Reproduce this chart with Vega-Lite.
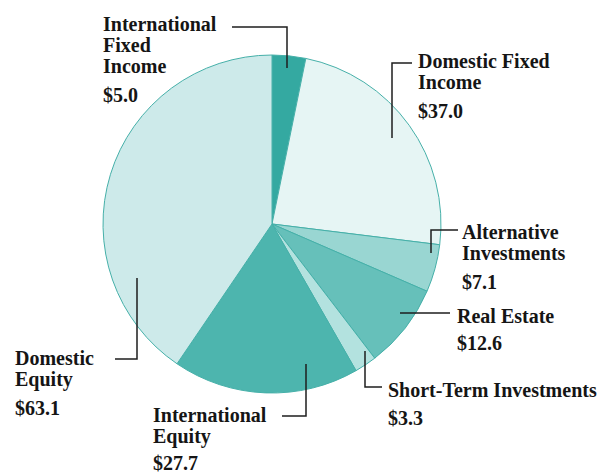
{
  "$schema": "https://vega.github.io/schema/vega-lite/v6.json",
  "width": 603,
  "height": 475,
  "padding": 0,
  "autosize": {"type": "fit", "contains": "padding"},
  "background": "white",
  "config": {"view": {"stroke": null}},
  "datasets": {
    "slices": [
      {"category": "International Fixed Income", "value": 5.0, "ord": 1},
      {"category": "Domestic Fixed Income", "value": 37.0, "ord": 2},
      {"category": "Alternative Investments", "value": 7.1, "ord": 3},
      {"category": "Real Estate", "value": 12.6, "ord": 4},
      {"category": "Short-Term Investments", "value": 3.3, "ord": 5},
      {"category": "International Equity", "value": 27.7, "ord": 6},
      {"category": "Domestic Equity", "value": 63.1, "ord": 7}
    ],
    "labels": [
      {"category": "International Fixed Income", "lines": ["International", "Fixed", "Income"], "lx": -169, "ly": 193, "vy": 122},
      {"category": "Domestic Fixed Income", "lines": ["Domestic Fixed", "Income"], "lx": 146, "ly": 156, "vy": 106},
      {"category": "Alternative Investments", "lines": ["Alternative", "Investments"], "lx": 190, "ly": -15, "vy": -65},
      {"category": "Real Estate", "lines": ["Real Estate"], "lx": 185, "ly": -99, "vy": -126},
      {"category": "Short-Term Investments", "lines": ["Short-Term Investments"], "lx": 116, "ly": -173, "vy": -201},
      {"category": "International Equity", "lines": ["International", "Equity"], "lx": -119, "ly": -198, "vy": -246},
      {"category": "Domestic Equity", "lines": ["Domestic", "Equity"], "lx": -257, "ly": -141, "vy": -191}
    ],
    "leaders": [
      {"category": "International Fixed Income", "seq": 1, "x": -40, "y": 197},
      {"category": "International Fixed Income", "seq": 2, "x": 15, "y": 197},
      {"category": "International Fixed Income", "seq": 3, "x": 15, "y": 156},
      {"category": "Domestic Fixed Income", "seq": 1, "x": 140, "y": 161},
      {"category": "Domestic Fixed Income", "seq": 2, "x": 120, "y": 161},
      {"category": "Domestic Fixed Income", "seq": 3, "x": 120, "y": 86},
      {"category": "Alternative Investments", "seq": 1, "x": 186, "y": -6},
      {"category": "Alternative Investments", "seq": 2, "x": 159, "y": -6},
      {"category": "Alternative Investments", "seq": 3, "x": 159, "y": -29},
      {"category": "Real Estate", "seq": 1, "x": 128, "y": -89},
      {"category": "Real Estate", "seq": 2, "x": 178, "y": -89},
      {"category": "Short-Term Investments", "seq": 1, "x": 93, "y": -127},
      {"category": "Short-Term Investments", "seq": 2, "x": 93, "y": -163},
      {"category": "Short-Term Investments", "seq": 3, "x": 110, "y": -163},
      {"category": "International Equity", "seq": 1, "x": 34, "y": -140},
      {"category": "International Equity", "seq": 2, "x": 34, "y": -192},
      {"category": "International Equity", "seq": 3, "x": 10, "y": -192},
      {"category": "Domestic Equity", "seq": 1, "x": -135, "y": -54},
      {"category": "Domestic Equity", "seq": 2, "x": -135, "y": -135},
      {"category": "Domestic Equity", "seq": 3, "x": -157, "y": -135}
    ]
  },
  "layer": [
    {
      "data": {"name": "slices"},
      "mark": {"type": "arc", "outerRadius": 169, "stroke": "#46b0a9", "strokeWidth": 1},
      "encoding": {
        "theta": {"field": "value", "type": "quantitative", "stack": true},
        "order": {"field": "ord", "type": "quantitative", "sort": "ascending"},
        "color": {
          "field": "category",
          "type": "nominal",
          "scale": {
            "domain": ["International Fixed Income", "Domestic Fixed Income", "Alternative Investments", "Real Estate", "Short-Term Investments", "International Equity", "Domestic Equity"],
            "range": ["#34a9a1", "#e6f5f4", "#99d6d2", "#66c0ba", "#b3e2df", "#4db5ae", "#cdeaea"]
          },
          "legend": null
        },
        "x": {"datum": 0, "type": "quantitative", "scale": {"domain": [-272, 331], "nice": false, "zero": false}, "axis": null},
        "y": {"datum": 0, "type": "quantitative", "scale": {"domain": [-251, 224], "nice": false, "zero": false}, "axis": null}
      }
    },
    {
      "data": {"name": "leaders"},
      "mark": {"type": "line", "stroke": "#1e1e1e", "strokeWidth": 1.5, "strokeJoin": "miter", "strokeCap": "butt"},
      "encoding": {
        "x": {"field": "x", "type": "quantitative", "scale": {"domain": [-272, 331], "nice": false, "zero": false}, "axis": null},
        "y": {"field": "y", "type": "quantitative", "scale": {"domain": [-251, 224], "nice": false, "zero": false}, "axis": null},
        "detail": {"field": "category", "type": "nominal"},
        "order": {"field": "seq", "type": "quantitative"}
      }
    },
    {
      "data": {"name": "labels"},
      "mark": {"type": "text", "align": "left", "baseline": "alphabetic", "font": "Liberation Serif", "fontWeight": "bold", "fontSize": 20, "lineHeight": 21, "color": "#151515"},
      "encoding": {
        "x": {"field": "lx", "type": "quantitative", "scale": {"domain": [-272, 331], "nice": false, "zero": false}, "axis": null},
        "y": {"field": "ly", "type": "quantitative", "scale": {"domain": [-251, 224], "nice": false, "zero": false}, "axis": null},
        "text": {"field": "lines"}
      }
    },
    {
      "data": {"name": "labels"},
      "transform": [
        {"lookup": "category", "from": {"data": {"name": "slices"}, "key": "category", "fields": ["value"]}}
      ],
      "mark": {"type": "text", "align": "left", "baseline": "alphabetic", "font": "Liberation Serif", "fontWeight": "bold", "fontSize": 20, "color": "#151515"},
      "encoding": {
        "x": {"field": "lx", "type": "quantitative", "scale": {"domain": [-272, 331], "nice": false, "zero": false}, "axis": null},
        "y": {"field": "vy", "type": "quantitative", "scale": {"domain": [-251, 224], "nice": false, "zero": false}, "axis": null},
        "text": {"field": "value", "type": "quantitative", "format": "$.1f"}
      }
    }
  ]
}
